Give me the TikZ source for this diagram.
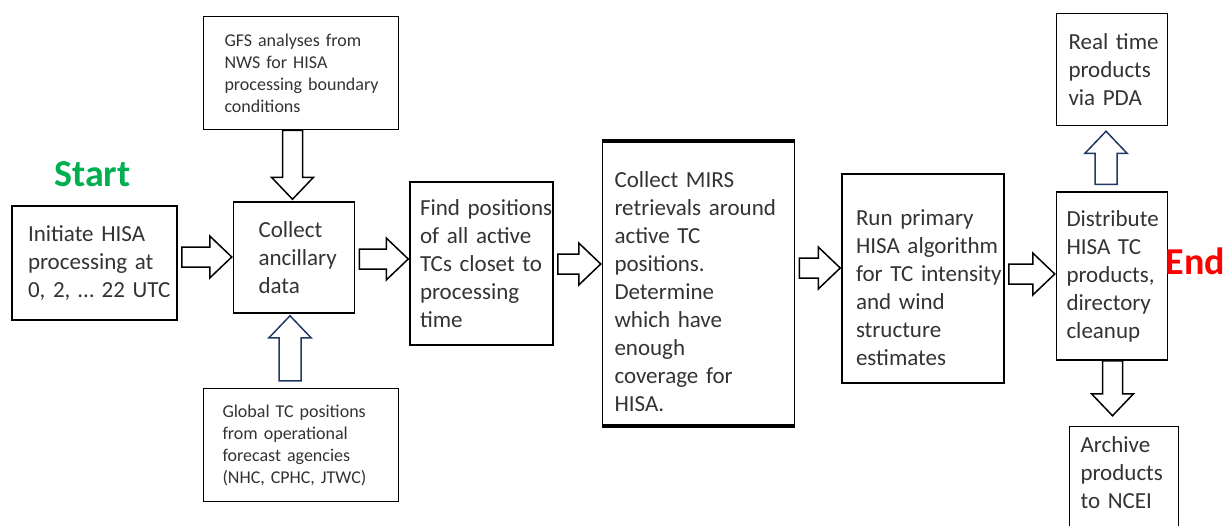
\documentclass[tikz,border=0pt]{standalone}
\usepackage{fontspec}
\setmainfont{Carlito}
\usetikzlibrary{positioning,calc}
\definecolor{startgreen}{RGB}{0,176,80}
\definecolor{endred}{RGB}{255,0,0}
\definecolor{navy}{RGB}{31,56,100}
\newcommand{\bigtxt}{\fontsize{23}{28}\selectfont}
\newcommand{\smalltxt}{\fontsize{18}{22}\selectfont}
\hyphenpenalty=10000
\exhyphenpenalty=10000

\begin{document}
\begin{tikzpicture}[x=1pt,y=-1pt]
	\tikzstyle{blk}=[draw, line width=1.5pt, align=left, text=black!80, font=\bigtxt, inner ysep=0pt]
	\tikzstyle{sml}=[font=\smalltxt]
	\tikzstyle{barr}=[draw, line width=1.5pt, fill=white, line join=miter]
	\tikzstyle{word}=[font=\bfseries\fontsize{38}{40}\selectfont, inner sep=0pt]

	\useasboundingbox (0,0) rectangle (1229,525);
	\clip (0,0) rectangle (1229,525);

	\node[blk, minimum height=114pt, inner xsep=16pt, text width=133pt] (init) at (94.5,263) {Initiate~HISA\\processing~at\\0,~2,~\dots~22~UTC};
	\node[blk, minimum height=111pt, inner xsep=25pt, text width=71pt] (anc) [right=55pt of init, yshift=5.5pt] {Collect\\ancillary\\data};
	\node[blk, minimum height=163pt, inner xsep=10pt, text width=123pt] (find) [right=54pt of anc, yshift=-6pt] {Find~positions\\of~all~active\\TCs~closet~to\\processing\\time};
	\node[blk, minimum height=283pt, inner xsep=12pt, text width=168pt, text height=32pt] (mirs) [right=48pt of find, yshift=-20pt] {Collect~MIRS\\retrievals~around\\active~TC\\positions.\\Determine\\which~have\\enough\\coverage~for\\HISA.};
	\node[blk, minimum height=209pt, inner xsep=14pt, text width=134pt, text height=34pt] (run) [right=46pt of mirs, yshift=5pt] {Run~primary\\HISA~algorithm\\for~TC~intensity\\and~wind\\structure\\estimates};
	\node[blk, minimum height=168pt, inner xsep=10pt, text width=91pt] (dist) [right=51pt of run, yshift=2.5pt] {Distribute\\HISA~TC\\products,\\directory\\cleanup};
	\node[blk, minimum height=112pt, inner xsep=12pt, text width=87pt] (real) [above=65pt of dist] {Real~time\\products\\via~PDA};
	\node[blk, inner xsep=11pt, inner ysep=10pt, text width=87pt, text depth=110pt] (arch) [below=65pt of dist, xshift=12pt] {Archive\\products\\to~NCEI};
	\node[blk, sml, minimum height=113pt, inner xsep=21pt, text width=153pt] (gfs) [above=71pt of anc, xshift=7pt] {GFS~analyses~from\\NWS~for~HISA\\processing~boundary\\conditions};
	\node[blk, sml, minimum height=113pt, inner xsep=19pt, text width=157pt] (glob) [below=74pt of anc, xshift=7pt] {Global~TC~positions\\from~operational\\forecast~agencies\\(NHC,~CPHC,~JTWC)};

	\node[word, text=startgreen] (startlbl) [above=18pt of init, xshift=-2pt] {Start};
	\node[word, text=endred] (endlbl) [right=-3pt of dist, yshift=14.5pt] {End};

	\draw[line width=4pt] (mirs.north west) -- (mirs.north east) (mirs.south west) -- (mirs.south east);

	% main flow, left to right
	\foreach \a/\b/\yy in {init/anc/257, anc/find/259, find/mirs/264, mirs/run/268, run/dist/274}
		\draw[barr] let \p1=(\a.east), \p2=(\b.west) in
			(\x1+4pt,-\yy pt+10pt) -- (\x2-23pt,-\yy pt+10pt) -- (\x2-23pt,-\yy pt+21pt) -- (\x2-1pt,-\yy pt)
			-- (\x2-23pt,-\yy pt-21pt) -- (\x2-23pt,-\yy pt-10pt) -- (\x1+4pt,-\yy pt-10pt) -- cycle;

	% inputs from above, output below
	\foreach \a/\b/\xx/\g in {gfs/anc/292.5/2, dist/arch/1112.5/10}
		\draw[barr] let \p1=(\a.south), \p2=(\b.north) in
			(\xx pt-10pt,\y1) -- (\xx pt-10pt,\y2+\g pt+22pt) -- (\xx pt-21pt,\y2+\g pt+22pt) -- (\xx pt,\y2+\g pt)
			-- (\xx pt+21pt,\y2+\g pt+22pt) -- (\xx pt+10pt,\y2+\g pt+22pt) -- (\xx pt+10pt,\y1) -- cycle;

	% upward ones
	\foreach \a/\b/\xx/\g in {glob/anc/290/2, dist/real/1106/5}
		\draw[barr, draw=navy] let \p1=(\a.north), \p2=(\b.south) in
			(\xx pt-11pt,\y1+7pt) -- (\xx pt-11pt,\y2-\g pt-22pt) -- (\xx pt-21pt,\y2-\g pt-22pt) -- (\xx pt,\y2-\g pt)
			-- (\xx pt+21pt,\y2-\g pt-22pt) -- (\xx pt+11pt,\y2-\g pt-22pt) -- (\xx pt+11pt,\y1+7pt) -- cycle;
\end{tikzpicture}
\end{document}
